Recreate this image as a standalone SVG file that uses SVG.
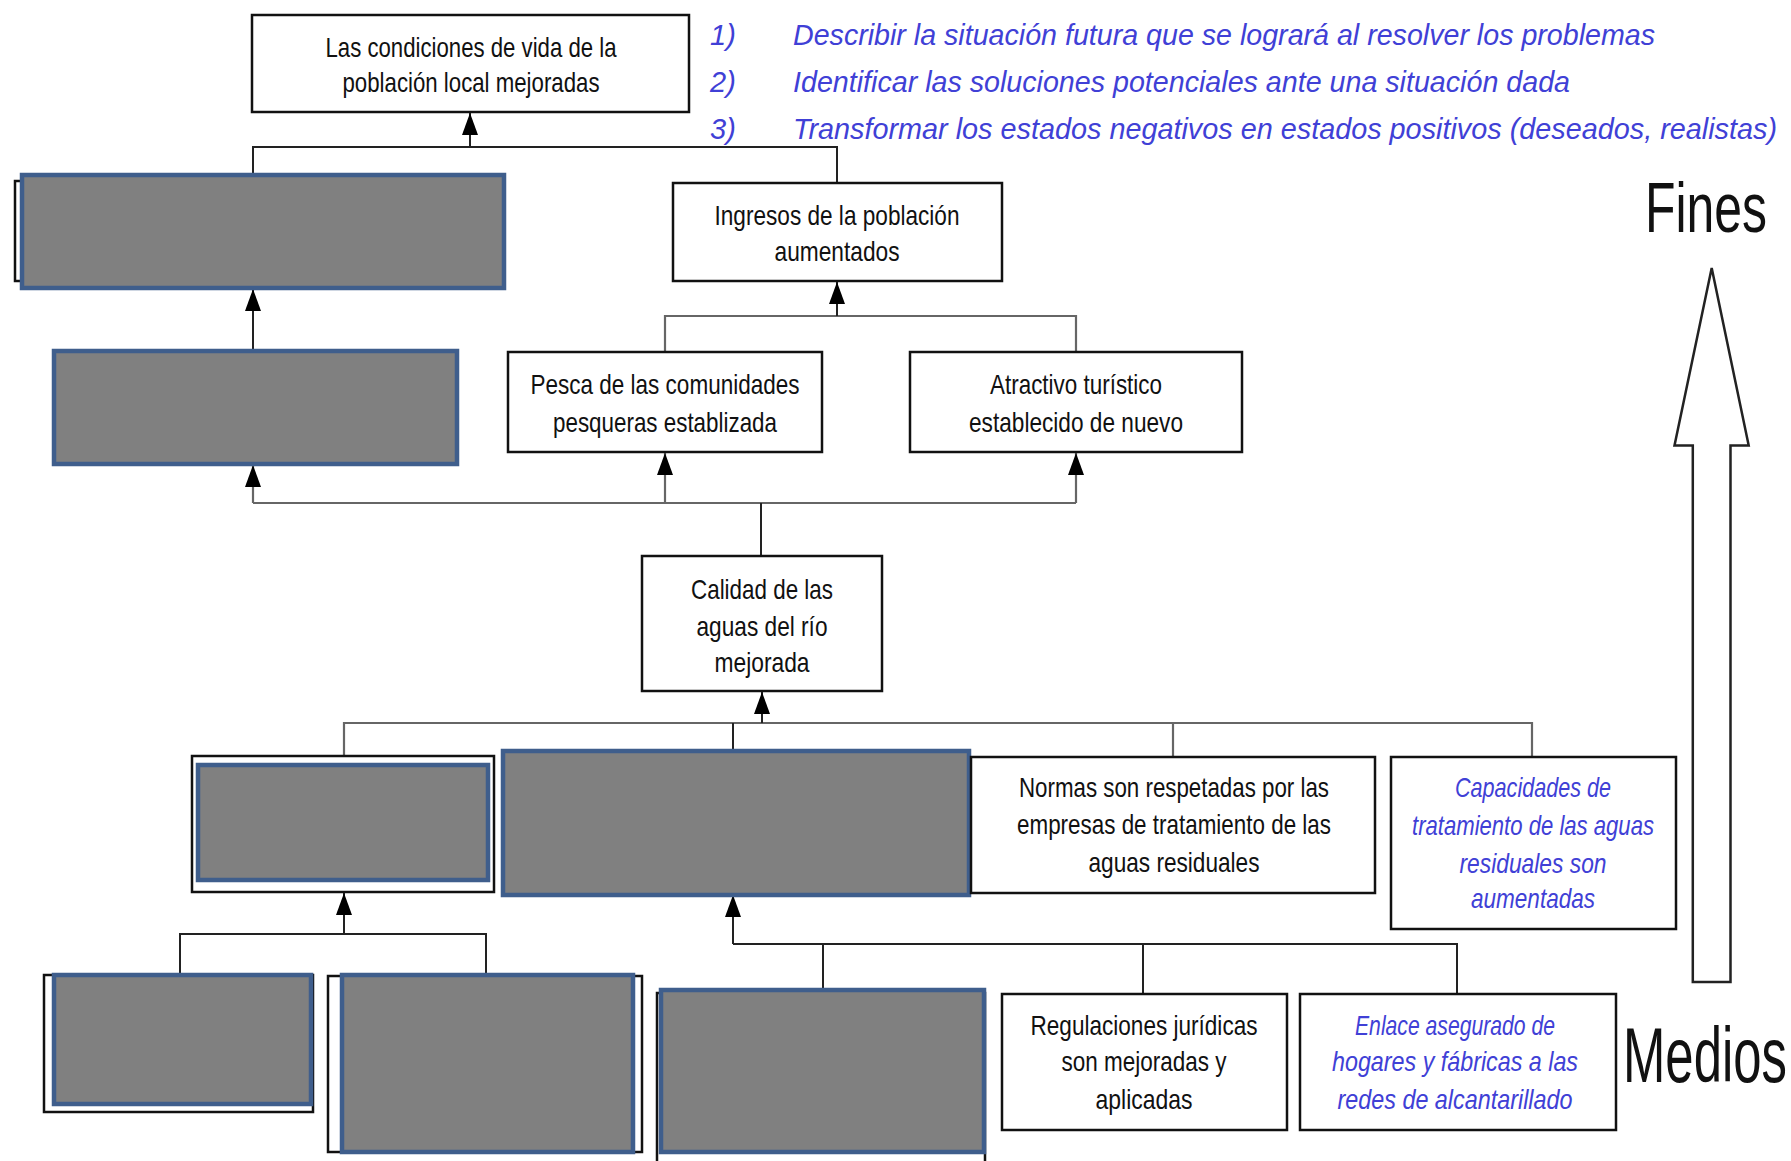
<svg xmlns="http://www.w3.org/2000/svg" width="1791" height="1161" viewBox="0 0 1791 1161">
<defs>
<style>
.box{fill:#fff;stroke:#111;stroke-width:2.5}
.gray{fill:#808080;stroke:#3f5e8c;stroke-width:4.5}
.t{font-family:"Liberation Sans",Arial,sans-serif;font-size:28.5px;fill:#111;text-anchor:middle}
.b{fill:#4040d6;font-style:italic}
.l{font-family:"Liberation Sans",Arial,sans-serif;font-size:29px;fill:#4040d6;font-style:italic}
.big{font-family:"Liberation Sans",Arial,sans-serif;fill:#111}
.c{fill:none;stroke:#222;stroke-width:2}
.g{fill:none;stroke:#666;stroke-width:2.2}
</style>
<marker id="ah" viewBox="0 0 22 16" refX="22" refY="8" markerWidth="22" markerHeight="16" markerUnits="userSpaceOnUse" orient="auto">
<path d="M0,0 L22,8 L0,16 z" fill="#000"/>
</marker>
</defs>
<rect width="1791" height="1161" fill="#fff"/>

<g id="connectors">
<path class="c" d="M253,175 V147 H837 V183"/>
<line class="c" x1="470" y1="147" x2="470" y2="113" marker-end="url(#ah)"/>
<line class="c" x1="253" y1="351" x2="253" y2="289" marker-end="url(#ah)"/>
<path class="g" d="M665,352 V316 H1076 V352"/>
<line class="c" x1="837" y1="316" x2="837" y2="282" marker-end="url(#ah)"/>
<path class="g" d="M253,503 H1076"/>
<line class="g" x1="253" y1="503" x2="253" y2="465" marker-end="url(#ah)"/>
<line class="g" x1="665" y1="503" x2="665" y2="453" marker-end="url(#ah)"/>
<line class="g" x1="1076" y1="503" x2="1076" y2="453" marker-end="url(#ah)"/>
<line class="c" x1="761" y1="503" x2="761" y2="556"/>
<path class="g" d="M344,756 V723 H1532 V757"/>
<line class="c" x1="733" y1="723" x2="733" y2="750"/>
<line class="g" x1="1173" y1="723" x2="1173" y2="757"/>
<line class="c" x1="762" y1="723" x2="762" y2="692" marker-end="url(#ah)"/>
<path class="c" d="M180,974 V934 H486 V975"/>
<line class="c" x1="344" y1="934" x2="344" y2="893" marker-end="url(#ah)"/>
<path class="c" d="M733,944 H1457 V994"/>
<line class="c" x1="733" y1="944" x2="733" y2="895" marker-end="url(#ah)"/>
<line class="c" x1="823" y1="944" x2="823" y2="990"/>
<line class="c" x1="1143" y1="944" x2="1143" y2="994"/>
</g>

<g id="n-top">
<rect class="box" x="252" y="15" width="437" height="97"/>
<text class="t" x="471" y="57" textLength="291" lengthAdjust="spacingAndGlyphs">Las condiciones de vida de la</text>
<text class="t" x="471" y="92" textLength="257" lengthAdjust="spacingAndGlyphs">población local mejoradas</text>
</g>

<g id="n-gray1">
<rect class="box" x="15" y="181" width="480" height="100"/>
<rect class="gray" x="22" y="175" width="482" height="113"/>
</g>

<g id="n-ingresos">
<rect class="box" x="673" y="183" width="329" height="98"/>
<text class="t" x="837" y="225" textLength="245" lengthAdjust="spacingAndGlyphs">Ingresos de la población</text>
<text class="t" x="837" y="261" textLength="125" lengthAdjust="spacingAndGlyphs">aumentados</text>
</g>

<g id="n-gray2">
<rect class="gray" x="54" y="351" width="403" height="113"/>
</g>

<g id="n-pesca">
<rect class="box" x="508" y="352" width="314" height="100"/>
<text class="t" x="665" y="394" textLength="269" lengthAdjust="spacingAndGlyphs">Pesca de las comunidades</text>
<text class="t" x="665" y="432" textLength="224" lengthAdjust="spacingAndGlyphs">pesqueras establizada</text>
</g>

<g id="n-atractivo">
<rect class="box" x="910" y="352" width="332" height="100"/>
<text class="t" x="1076" y="394" textLength="172" lengthAdjust="spacingAndGlyphs">Atractivo turístico</text>
<text class="t" x="1076" y="432" textLength="214" lengthAdjust="spacingAndGlyphs">establecido de nuevo</text>
</g>

<g id="n-calidad">
<rect class="box" x="642" y="556" width="240" height="135"/>
<text class="t" x="762" y="599" textLength="142" lengthAdjust="spacingAndGlyphs">Calidad de las</text>
<text class="t" x="762" y="636" textLength="131" lengthAdjust="spacingAndGlyphs">aguas del río</text>
<text class="t" x="762" y="672" textLength="95" lengthAdjust="spacingAndGlyphs">mejorada</text>
</g>

<g id="n-gray3">
<rect class="box" x="192" y="756" width="302" height="136"/>
<rect class="gray" x="198" y="765" width="290" height="115"/>
</g>

<g id="n-gray4">
<rect class="gray" x="503" y="751" width="466" height="144"/>
</g>

<g id="n-normas">
<rect class="box" x="971" y="757" width="404" height="136"/>
<text class="t" x="1174" y="797" textLength="310" lengthAdjust="spacingAndGlyphs">Normas son respetadas por las</text>
<text class="t" x="1174" y="834" textLength="314" lengthAdjust="spacingAndGlyphs">empresas de tratamiento de las</text>
<text class="t" x="1174" y="872" textLength="171" lengthAdjust="spacingAndGlyphs">aguas residuales</text>
</g>

<g id="n-capacidades">
<rect class="box" x="1391" y="757" width="285" height="172"/>
<text class="t b" x="1533" y="797" textLength="156" lengthAdjust="spacingAndGlyphs">Capacidades de</text>
<text class="t b" x="1533" y="835" textLength="242" lengthAdjust="spacingAndGlyphs">tratamiento de las aguas</text>
<text class="t b" x="1533" y="873" textLength="147" lengthAdjust="spacingAndGlyphs">residuales son</text>
<text class="t b" x="1533" y="908" textLength="124" lengthAdjust="spacingAndGlyphs">aumentadas</text>
</g>

<g id="n-gray5">
<rect class="box" x="44" y="975" width="269" height="137"/>
<rect class="gray" x="54" y="975" width="257" height="129"/>
</g>

<g id="n-gray6">
<rect class="box" x="328" y="976" width="314" height="176"/>
<rect class="gray" x="342" y="975" width="291" height="177"/>
</g>

<g id="n-gray7">
<path class="box" d="M657,1165 V993 H985 V1165"/>
<rect class="gray" x="661" y="990" width="323" height="162"/>
</g>

<g id="n-regulaciones">
<rect class="box" x="1002" y="994" width="285" height="136"/>
<text class="t" x="1144" y="1035" textLength="227" lengthAdjust="spacingAndGlyphs">Regulaciones jurídicas</text>
<text class="t" x="1144" y="1071" textLength="165" lengthAdjust="spacingAndGlyphs">son mejoradas y</text>
<text class="t" x="1144" y="1109" textLength="97" lengthAdjust="spacingAndGlyphs">aplicadas</text>
</g>

<g id="n-enlace">
<rect class="box" x="1300" y="994" width="316" height="136"/>
<text class="t b" x="1455" y="1035" textLength="200" lengthAdjust="spacingAndGlyphs">Enlace asegurado de</text>
<text class="t b" x="1455" y="1071" textLength="246" lengthAdjust="spacingAndGlyphs">hogares y fábricas a las</text>
<text class="t b" x="1455" y="1109" textLength="235" lengthAdjust="spacingAndGlyphs">redes de alcantarillado</text>
</g>

<g id="list">
<text class="l" x="710" y="45">1)</text>
<text class="l" x="793" y="45" textLength="862" lengthAdjust="spacingAndGlyphs">Describir la situación futura que se logrará al resolver los problemas</text>
<text class="l" x="710" y="92">2)</text>
<text class="l" x="793" y="92" textLength="777" lengthAdjust="spacingAndGlyphs">Identificar las soluciones potenciales ante una situación dada</text>
<text class="l" x="710" y="139">3)</text>
<text class="l" x="793" y="139" textLength="984" lengthAdjust="spacingAndGlyphs">Transformar los estados negativos en estados positivos (deseados, realistas)</text>
</g>

<g id="fines-medios">
<polygon points="1711.7,268 1748.7,445.5 1730.5,445.5 1730.5,982 1692.8,982 1692.8,445.5 1674.5,445.5" fill="#fff" stroke="#222" stroke-width="2.5"/>
<text class="big" transform="translate(1645,232) scale(0.713,1)" font-size="70">Fines</text>
<text class="big" transform="translate(1623,1082) scale(0.652,1)" font-size="78">Medios</text>
</g>
</svg>
